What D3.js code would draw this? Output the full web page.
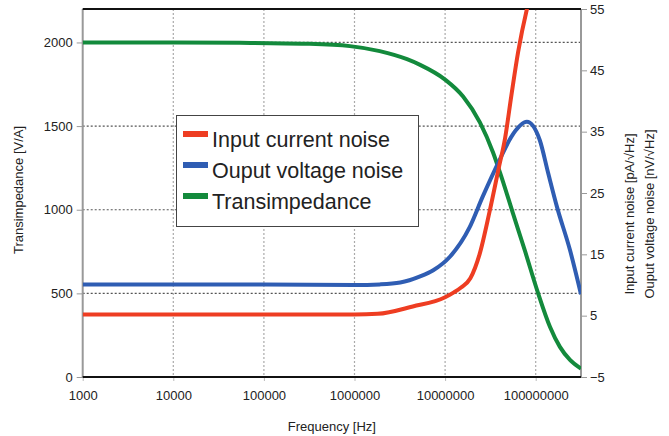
<!DOCTYPE html>
<html>
<head>
<meta charset="utf-8">
<script src="https://cdn.jsdelivr.net/npm/d3@7"></script>
<style>
  body { margin: 0; background: #fff; }
  svg { display: block; font-family: "Liberation Sans", Arial, sans-serif; }
</style>
</head>
<body>
<svg id="chart" width="669" height="436"></svg>
<script>
// frequency in Hz
var inputCurrentNoise = [
  [1e3, 5.2], [1e5, 5.2], [1e6, 5.2], [1.8e6, 5.3], [4.4e6, 6.5], [1e7, 8.0],
  [1.25e7, 8.8], [1.5e7, 9.6], [1.9e7, 11.1], [2.4e7, 15], [3.1e7, 22],
  [3.9e7, 29], [4.6e7, 34], [5.4e7, 41], [6.4e7, 48], [8e7, 55], [9e7, 58]
];
var outputVoltageNoise = [
  [1e3, 10.1], [1e5, 10.1], [1e6, 10.0], [1.9e6, 10.1], [3.2e6, 10.4], [5.3e6, 11.4],
  [7.4e6, 12.4], [1.13e7, 14.6], [1.85e7, 19.3], [2.6e7, 24.4], [4e7, 30.4],
  [5.4e7, 34.2], [8e7, 36.6], [1.11e8, 33.6], [1.37e8, 28.3], [1.72e8, 22.7],
  [2.39e8, 15.7], [3.16e8, 8.5]
];
var transimpedance = [
  [1e3, 2000], [1e4, 2000], [5.4e4, 1998], [3e5, 1992], [8.9e5, 1978], [1.9e6, 1948],
  [3.8e6, 1900], [5.3e6, 1866], [1e7, 1778], [1.58e7, 1677], [2.43e7, 1521],
  [3.39e7, 1341], [4.04e7, 1222], [5.6e7, 980], [7.6e7, 755], [1.06e8, 503],
  [1.44e8, 299], [1.85e8, 180], [2.39e8, 102], [3.16e8, 50]
];
var xTicks = [1e3, 1e4, 1e5, 1e6, 1e7, 1e8];
var leftTicks = [0, 500, 1000, 1500, 2000];
var rightTicks = [-5, 5, 15, 25, 35, 45, 55];
var legendNames = ["Input current noise", "Ouput voltage noise", "Transimpedance"];
var colors = ["#ee3d22", "#2f5db3", "#138a3c"];

var svg = d3.select("#chart");
var left = 82.7, right = 581, top_ = 9, bottom = 377;

var x = d3.scaleLog().domain([1e3, Math.pow(10, 8.5)]).range([left, right]);
var yL = d3.scaleLinear().domain([0, 2200]).range([bottom, top_]);
var yR = d3.scaleLinear().domain([-5, 55]).range([bottom, top_]);

// grid
svg.append("g").selectAll("line").data(xTicks.slice(1)).join("line")
  .attr("x1", d => x(d)).attr("x2", d => x(d))
  .attr("y1", top_).attr("y2", bottom)
  .attr("stroke", "#aaa").attr("stroke-width", 1.2).attr("stroke-dasharray", "2,2");
svg.append("g").selectAll("line").data(leftTicks.slice(1)).join("line")
  .attr("x1", left).attr("x2", right)
  .attr("y1", d => yL(d)).attr("y2", d => yL(d))
  .attr("stroke", "#555").attr("stroke-width", 1.2).attr("stroke-dasharray", "2,2");

// axes
var xAxis = svg.append("g").attr("transform", `translate(0,${bottom})`)
  .call(d3.axisBottom(x).tickValues(xTicks).tickFormat(d3.format("d")).tickSize(4).tickPadding(10));
var lAxis = svg.append("g").attr("transform", `translate(${left},0)`)
  .call(d3.axisLeft(yL).tickValues(leftTicks).tickFormat(d3.format("d")).tickSize(6).tickPadding(4));
var rAxis = svg.append("g").attr("transform", `translate(${right},0)`)
  .call(d3.axisRight(yR).tickValues(rightTicks).tickFormat(d3.format("d")).tickSize(6).tickPadding(3));
[xAxis, lAxis, rAxis].forEach(function(a){
  a.select(".domain").remove();
  a.selectAll(".tick line").attr("stroke", "#999");
  a.selectAll(".tick text").attr("fill", "#222").style("font-size", "13px")
    .style("font-family", "'Liberation Sans', Arial, sans-serif");
});
xAxis.selectAll(".tick line").attr("stroke", "#bbb");

svg.append("line").attr("x1", left).attr("x2", left).attr("y1", top_).attr("y2", bottom)
  .attr("stroke", "#999").attr("stroke-width", 2);
svg.append("line").attr("x1", right).attr("x2", right).attr("y1", top_).attr("y2", bottom)
  .attr("stroke", "#999").attr("stroke-width", 2);
svg.append("line").attr("x1", left).attr("x2", right).attr("y1", top_).attr("y2", top_)
  .attr("stroke", "#111").attr("stroke-width", 2);

// lines
svg.append("clipPath").attr("id", "clip").append("rect")
  .attr("x", left).attr("y", top_).attr("width", right - left).attr("height", bottom - top_);
var plot = svg.append("g").attr("clip-path", "url(#clip)");
var lineR = d3.line().x(d => x(d[0])).y(d => yR(d[1])).curve(d3.curveMonotoneX);
var lineL = d3.line().x(d => x(d[0])).y(d => yL(d[1])).curve(d3.curveMonotoneX);
plot.append("path").datum(transimpedance).attr("d", lineL)
  .attr("fill", "none").attr("stroke", colors[2]).attr("stroke-width", 4);
plot.append("path").datum(outputVoltageNoise).attr("d", lineR)
  .attr("fill", "none").attr("stroke", colors[1]).attr("stroke-width", 4);
plot.append("path").datum(inputCurrentNoise).attr("d", lineR)
  .attr("fill", "none").attr("stroke", colors[0]).attr("stroke-width", 4);

svg.append("line").attr("x1", left).attr("x2", right).attr("y1", bottom).attr("y2", bottom)
  .attr("stroke", "#111").attr("stroke-width", 2);

// axis titles
svg.append("text").attr("x", (left + right) / 2).attr("y", 431).attr("text-anchor", "middle")
  .style("font-size", "13px").attr("fill", "#222").text("Frequency [Hz]");
svg.append("text").attr("transform", "translate(23,190) rotate(-90)").attr("text-anchor", "middle")
  .style("font-size", "13px").attr("fill", "#222").text("Transimpedance [V/A]");
svg.append("text").attr("transform", "translate(634,214) rotate(-90)").attr("text-anchor", "middle")
  .style("font-size", "13px").attr("fill", "#222").text("Input current noise [pA/√Hz]");
svg.append("text").attr("transform", "translate(654,214) rotate(-90)").attr("text-anchor", "middle")
  .style("font-size", "13px").attr("fill", "#222").text("Ouput voltage noise [nV/√Hz]");

// legend
var lg = svg.append("g");
lg.append("rect").attr("x", 176.5).attr("y", 115.5).attr("width", 242).attr("height", 111)
  .attr("fill", "#fff").attr("stroke", "#444").attr("stroke-width", 1);
var items = lg.selectAll("g.item").data(legendNames).join("g")
  .attr("transform", (d, i) => `translate(0,${147 + i * 31})`);
items.append("rect").attr("x", 183).attr("y", -16).attr("width", 25).attr("height", 6)
  .attr("fill", (d, i) => colors[i]);
items.append("text").attr("x", 212).attr("y", 0).style("font-size", "21.5px")
  .attr("fill", "#222").text(d => d);
</script>
</body>
</html>
